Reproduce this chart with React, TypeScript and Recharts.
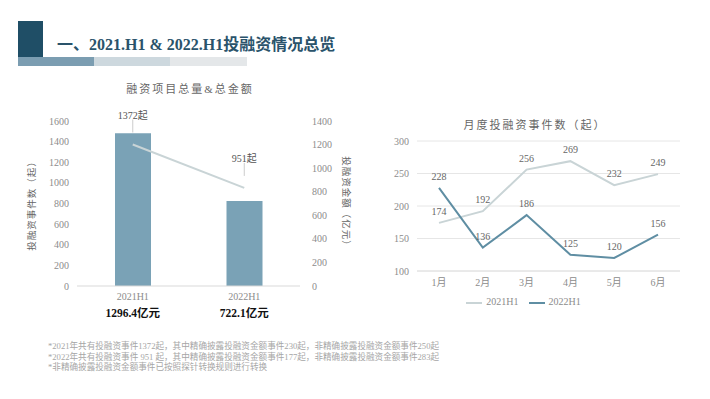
import { ComposedChart, LineChart, Bar, Line, XAxis, YAxis, CartesianGrid, LabelList, Legend } from 'recharts';

const halfYears = ['2021H1', '2022H1'];
const eventCounts = [1372, 951];
const amounts = [1296.4, 722.1];
const amountLabels = ['1296.4亿元', '722.1亿元'];
const countTicks = [0, 200, 400, 600, 800, 1000, 1200, 1400, 1600];
const amountTicks = [0, 200, 400, 600, 800, 1000, 1200, 1400];

const months = ['1月', '2月', '3月', '4月', '5月', '6月'];
const events2021 = [174, 192, 256, 269, 232, 249];
const events2022 = [228, 136, 186, 125, 120, 156];
const monthTicks = [100, 150, 200, 250, 300];

const notes = [
  '*2021年共有投融资事件1372起，其中精确披露投融资金额事件230起，非精确披露投融资金额事件250起',
  '*2022年共有投融资事件 951 起，其中精确披露投融资金额事件177起，非精确披露投融资金额事件283起',
  '*非精确披露投融资金额事件已按照探针转换规则进行转换',
];

const halfData = halfYears.map((h, i) => ({ name: h, count: eventCounts[i], amount: amounts[i], amountLabel: amountLabels[i] }));
const monthData = months.map((m, i) => ({ month: m, '2021H1': events2021[i], '2022H1': events2022[i] }));

const FONT = "'Liberation Serif', 'Noto Sans CJK SC', serif";
const GRAY = '#8c8c8c';

const HalfTick = (props: any) => {
  const { x, y, payload, index } = props;
  return (
    <g>
      <text x={x} y={y + 6} textAnchor="middle" fill={GRAY} fontSize={10} fontFamily={FONT}>
        {payload.value}
      </text>
      <text x={x} y={y + 23} textAnchor="middle" fill="#111" fontSize={11.5} fontWeight="bold" fontFamily={FONT}>
        {halfData[index]?.amountLabel}
      </text>
    </g>
  );
};

const CalloutLabel = (props: any) => {
  const { x, y, value } = props;
  return (
    <g>
      <line x1={x} y1={y - 12} x2={x} y2={y - 25} stroke="#bfbfbf" strokeWidth={0.8} />
      <text x={x} y={y - 26} textAnchor="middle" fill="#555" fontSize={10} fontFamily={FONT}>
        {value}起
      </text>
    </g>
  );
};

const VLabel = (side: 'left' | 'right', text: string) => (props: any) => {
  const { viewBox } = props;
  const cy = viewBox.y + viewBox.height / 2;
  const cx = side === 'left' ? 33 : 345;
  return (
    <text
      x={cx}
      y={cy}
      transform={`rotate(${side === 'left' ? -90 : 90} ${cx} ${cy})`}
      textAnchor="middle"
      dominantBaseline="middle"
      fill="#666"
      fontSize={9.5}
      letterSpacing={1}
      fontFamily={FONT}
    >
      {text}
    </text>
  );
};

export default function App() {
  return (
    <div style={{ position: 'absolute', left: 0, top: 0, width: 710, height: 399, background: '#fff', fontFamily: FONT, overflow: 'hidden' }}>
      {/* header */}
      <div style={{ position: 'absolute', left: 18, top: 21, width: 25, height: 36, background: '#1f4e66' }} />
      <div style={{ position: 'absolute', left: 18, top: 57, width: 76, height: 9, background: '#7b9db1' }} />
      <div style={{ position: 'absolute', left: 94, top: 57, width: 76, height: 9, background: '#cdd8de' }} />
      <div style={{ position: 'absolute', left: 170, top: 57, width: 77, height: 9, background: '#e4e7e9' }} />
      <div style={{ position: 'absolute', left: 57, top: 31, fontSize: 16, fontWeight: 'bold', color: '#2a536b', whiteSpace: 'nowrap' }}>
        一、2021.H1 &amp; 2022.H1投融资情况总览
      </div>

      {/* left chart */}
      <div style={{ position: 'absolute', left: 0, top: 80, width: 380, textAlign: 'center', fontSize: 11, color: '#666', letterSpacing: 2 }}>
        融资项目总量&amp;总金额
      </div>
      <div style={{ position: 'absolute', left: 0, top: 0 }}>
        <ComposedChart width={360} height={340} data={halfData} margin={{ top: 121, right: 20, bottom: 14, left: 37 }}>
          <XAxis dataKey="name" height={40} tick={<HalfTick />} tickLine={false} axisLine={{ stroke: '#d9d9d9' }} interval={0} />
          <YAxis yAxisId="left" width={40} domain={[0, 1600]} ticks={countTicks} tick={{ fill: GRAY, fontSize: 10, fontFamily: FONT }} tickLine={false} axisLine={false} label={{ content: VLabel('left', '投融资事件数（起）') }} />
          <YAxis yAxisId="right" orientation="right" width={40} domain={[0, 1400]} ticks={amountTicks} tick={{ fill: GRAY, fontSize: 10, fontFamily: FONT }} tickLine={false} tickMargin={6} axisLine={false} label={{ content: VLabel('right', '投融资金额（亿元）') }} />
          <Bar yAxisId="right" dataKey="amount" fill="#7aa2b6" barSize={36} isAnimationActive={false} />
          <Line yAxisId="left" dataKey="count" stroke="#c9d4d6" strokeWidth={2} dot={false} isAnimationActive={false}>
            <LabelList dataKey="count" content={<CalloutLabel />} />
          </Line>
        </ComposedChart>
      </div>

      {/* right chart */}
      <div style={{ position: 'absolute', left: 360, top: 116, width: 350, textAlign: 'center', fontSize: 11, color: '#666', letterSpacing: 2 }}>
        月度投融资事件数（起）
      </div>
      <div style={{ position: 'absolute', left: 360, top: 0 }}>
        <LineChart width={350} height={333} data={monthData} margin={{ top: 141, right: 30, bottom: 15, left: 17 }}>
          <CartesianGrid vertical={false} stroke="#e6e6e6" />
          <XAxis dataKey="month" height={24} padding={{ left: 22, right: 22 }} tick={{ fill: GRAY, fontSize: 10, fontFamily: FONT }} tickLine={false} axisLine={{ stroke: '#e0e0e0' }} />
          <YAxis width={40} domain={[100, 300]} ticks={monthTicks} tick={{ fill: GRAY, fontSize: 10, fontFamily: FONT }} tickLine={false} axisLine={false} />
          <Legend verticalAlign="bottom" height={23} iconType="plainline" iconSize={16} wrapperStyle={{ fontSize: 10, fontFamily: FONT, color: GRAY }} formatter={(v: string) => <span style={{ color: GRAY }}>{v}</span>} />
          <Line dataKey="2021H1" stroke="#c9d4d6" strokeWidth={2} dot={false} isAnimationActive={false}>
            <LabelList dataKey="2021H1" position="top" offset={8} fill="#666" fontSize={10} fontFamily={FONT} />
          </Line>
          <Line dataKey="2022H1" stroke="#5f8ea3" strokeWidth={2} dot={false} isAnimationActive={false}>
            <LabelList dataKey="2022H1" position="top" offset={8} fill="#666" fontSize={10} fontFamily={FONT} />
          </Line>
        </LineChart>
      </div>

      {/* footnotes */}
      <div style={{ position: 'absolute', left: 48, top: 341, fontSize: 8.6, lineHeight: '10.5px', color: '#a6a6a6', whiteSpace: 'nowrap' }}>
        {notes.map((n) => (
          <div key={n}>{n}</div>
        ))}
      </div>
    </div>
  );
}
